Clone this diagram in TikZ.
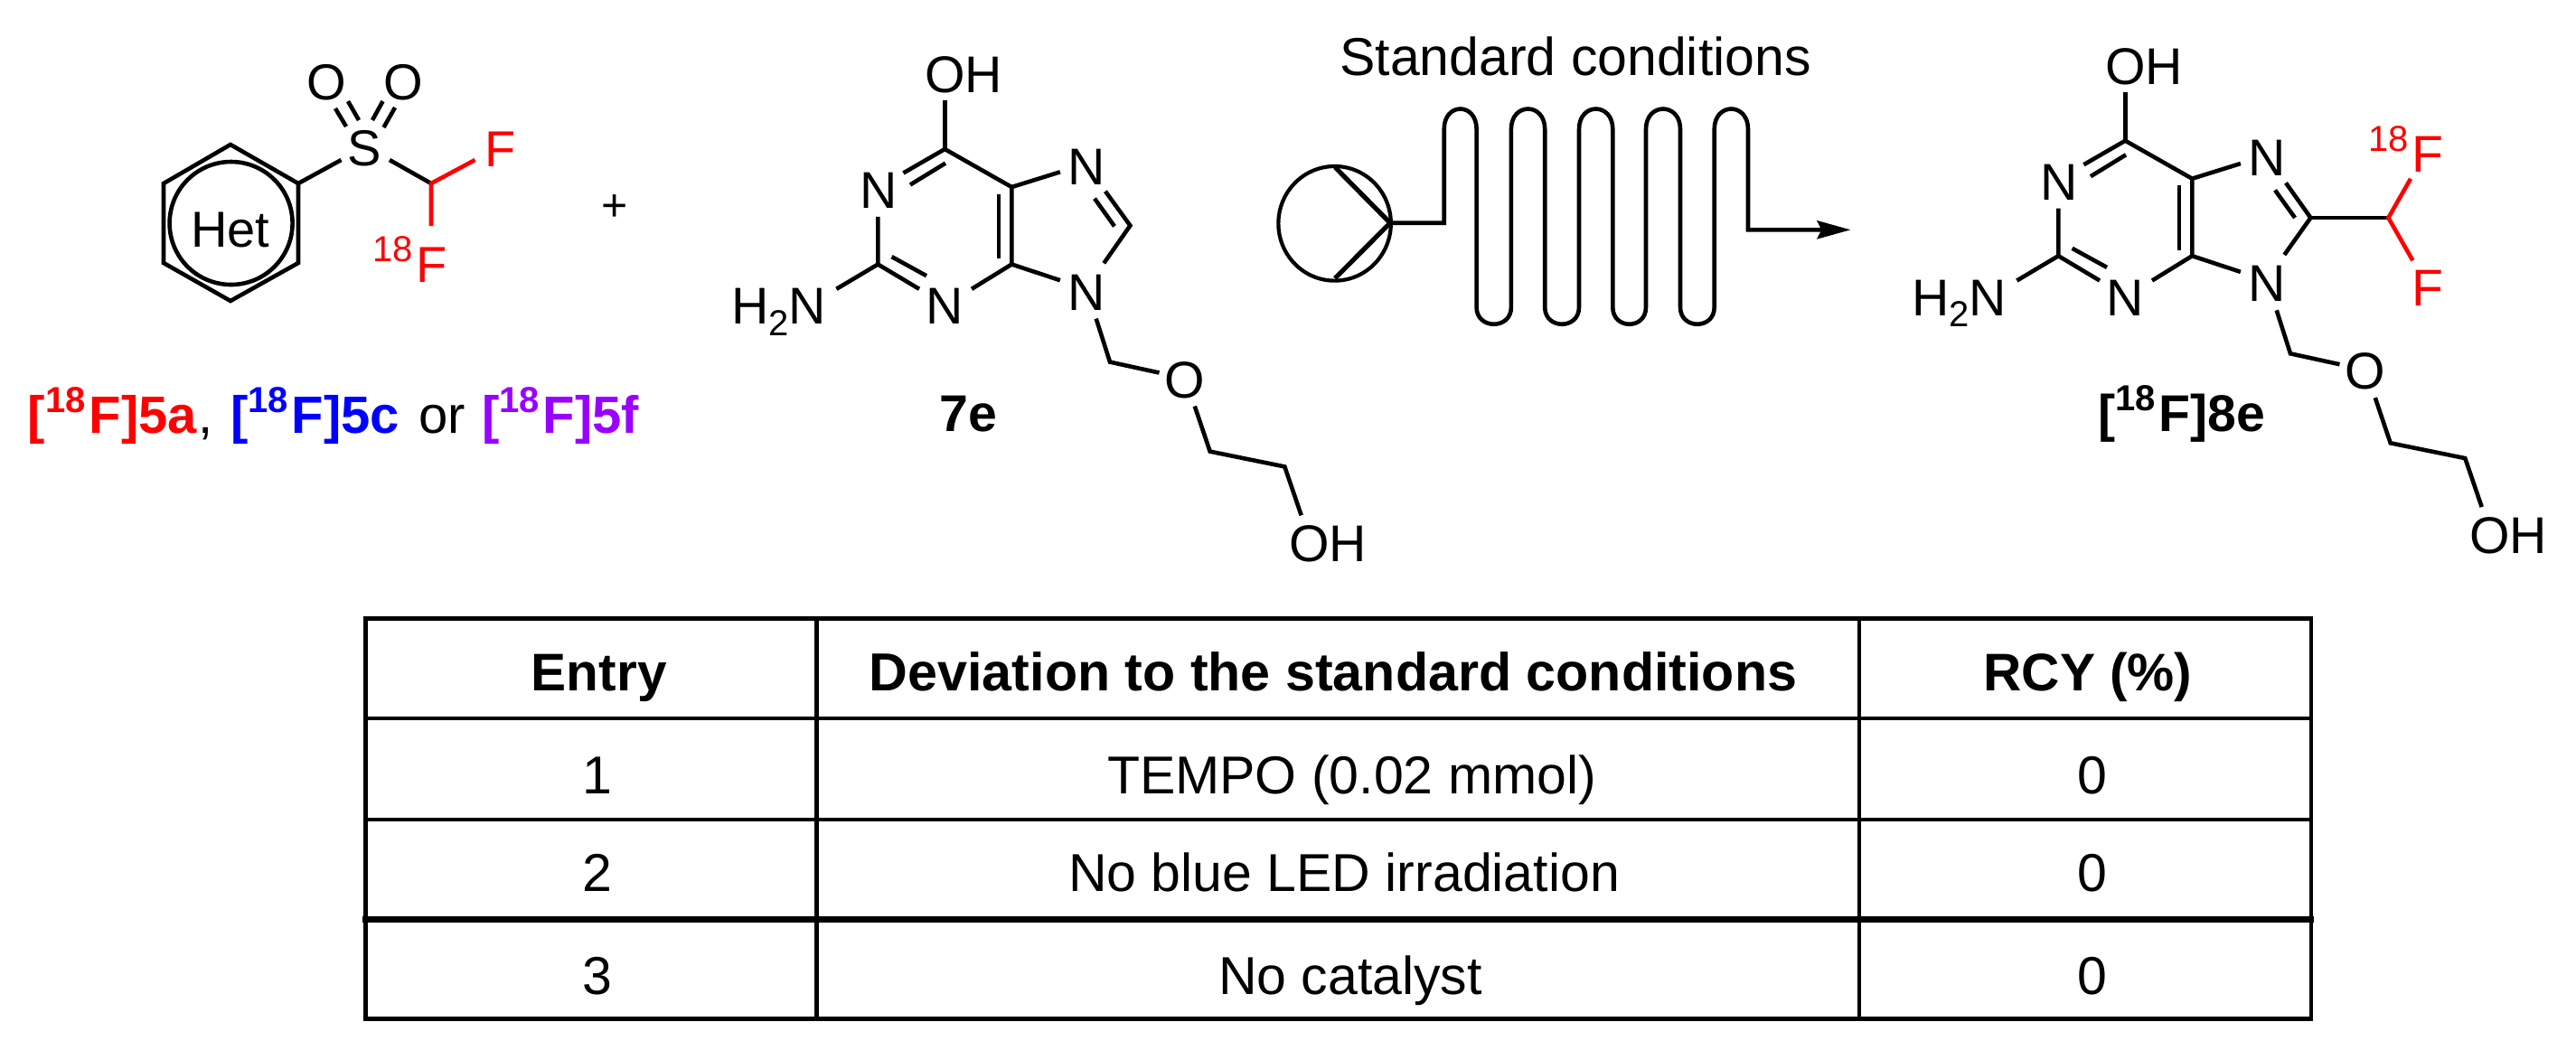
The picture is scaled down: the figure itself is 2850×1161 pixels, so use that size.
\documentclass[tikz,border=0pt]{standalone}
\usepackage{fontspec}
\setmainfont{Liberation Sans}
\usetikzlibrary{arrows.meta}
\definecolor{purp}{RGB}{153,0,255}
\newcommand{\supa}{\raisebox{5.75pt}{\fontsize{10}{10}\selectfont 18}\kern1pt}
\newcommand{\subb}{\raisebox{-3.15pt}{\fontsize{10}{10}\selectfont 2}}
\tikzset{
  bond/.style={line width=1.15pt,line cap=butt,line join=miter},
  redbond/.style={bond,red},
  lbl/.style={inner sep=0pt,outer sep=0pt,anchor=base},
  bigtxt/.style={lbl,font=\fontsize{14}{14}\selectfont},
  chem/.style={lbl,font=\fontsize{14.3}{14.3}\selectfont},
  chemb/.style={lbl,font=\fontsize{14.3}{14.3}\selectfont\bfseries},
  captxt/.style={lbl,anchor=base west,font=\fontsize{14.5}{14.5}\selectfont\bfseries},
  capreg/.style={lbl,anchor=base west,font=\fontsize{14.5}{14.5}\selectfont},
  cellh/.style={lbl,font=\fontsize{14.65}{14.65}\selectfont\bfseries},
  celltxt/.style={lbl,font=\fontsize{14.75}{14.75}\selectfont},
  rulem/.style={line width=1.05pt,line cap=rect},
  rulet/.style={line width=1.2pt,line cap=rect},
  ruleb/.style={line width=1.65pt,line cap=rect},
}
\newcommand{\purine}[2]{%
\begin{scope}[shift={(#2)}]
  \node[chem] (#1oh) at (1066,102.3) {OH};
  \node[chem] (#1na) at (972,230.7) {N};
  \node[chem] (#1nb) at (1201.7,204.2) {N};
  \node[chem] (#1nc) at (1201.7,343) {N};
  \node[chem] (#1nd) at (1045.3,358.6) {N};
  \node[chem,anchor=base west] (#1nh) at (809,358.6) {H\subb N};
  \node[chem] (#1o) at (1310.6,440) {O};
  \node[chem] (#1ohb) at (1469,621.6) {OH};
  \draw[bond] (1045.3,111.1) -- (1045.3,165);
  \draw[bond] (999.4,191.5) -- (1045.3,165) -- (1119.3,207) -- (1119.3,292.5) -- (1075,319.8);
  \draw[bond] (1007,204.5) -- (1046,180.6);
  \draw[bond] (1105,214.6) -- (1105,286.2);
  \draw[bond] (1119.3,207) -- (1172.9,190.3);
  \draw[bond] (1119.3,292.5) -- (1172.9,310.2);
  \draw[bond] (1017,319.8) -- (971.3,292.5) -- (971.3,239.9);
  \draw[bond] (1025,305.2) -- (986.6,284.1);
  \draw[bond] (971.3,292.5) -- (925.4,319.8);
  \draw[bond] (1212.7,352.6) -- (1228,400.6) -- (1282.5,412.5);
  \draw[bond] (1321.8,449.5) -- (1338.7,499.6) -- (1421.3,516.4) -- (1439.7,570.3);
\end{scope}}
\begin{document}
\begin{tikzpicture}[x=0.25pt,y=-0.25pt]
\useasboundingbox (0,0) rectangle (2850,1161);
\fill[white] (0,0) rectangle (2850,1161);

% --- heteroaryl sulfone ---
\draw[bond] (255,160) -- (330,203) -- (330,291) -- (255,333) -- (181,291) -- (181,203) -- cycle;
\draw[bond] (255.6,247) circle[radius=17pt];
\node[bigtxt] (het) at (255,273) {Het};
\node[bigtxt] (sulf) at (403,183) {S};
\node[bigtxt] (oa) at (361,110) {O};
\node[bigtxt] (ob) at (446,110) {O};
\draw[bond] (371,120) -- (383,140);
\draw[bond] (385,112) -- (397,133);
\draw[bond] (423.5,112) -- (412,133);
\draw[bond] (437,119) -- (424.5,141);
\draw[bond] (330,203) -- (377.5,177);
\draw[bond] (431,177) -- (477,203);
\draw[redbond] (525.5,177) -- (477,203) -- (477,250);
\node[bigtxt,text=red,anchor=base west] (fa) at (536,184) {F};
\node[bigtxt,text=red,anchor=base west] (fb) at (412,312) {\supa F};
\node[lbl,font=\fontsize{12.5}{12.5}\selectfont] (plus) at (680,244) {+};

% --- caption ---
\node[captxt,text=red] (capa) at (31,479) {[\supa F]5a};
\node[capreg] (capc) at (219,479) {,};
\node[captxt,text=blue] (capb) at (255,479) {[\supa F]5c};
\node[capreg] (capo) at (463,479) {or};
\node[captxt,text=purp] (capf) at (533,479) {[\supa F]5f};

% --- 7e ---
\draw[bond] (1222.9,211.7) -- (1250.4,249.6) -- (1221.3,291.3);
\draw[bond] (1211,219.7) -- (1233,250.4);
\purine{p}{0,0}
\node[chemb] (ls) at (1071,477.5) {7e};

% --- flow reactor ---
\node[lbl,font=\fontsize{14.75}{14.75}\selectfont] (std) at (1743,83) {Standard conditions};
\draw[line width=1.05pt] (1476.6,247.3) ellipse[x radius=15.56pt,y radius=15.83pt];
\draw[line width=1.3pt,line join=miter] (1477,185) -- (1538,246.7) -- (1477,308);
\draw[bond,-{Stealth[length=9.25pt,width=5pt,inset=1.2pt]}]
  (1538,246.7) -- (1597.7,246.7) -- (1597.7,143)
  .. controls (1597.7,113) and (1633.6,113) .. (1633.6,143) -- (1633.6,340)
  .. controls (1633.6,365) and (1671.9,365) .. (1671.9,340) -- (1671.9,143)
  .. controls (1671.9,113) and (1709.2,113) .. (1709.2,143) -- (1709.2,340)
  .. controls (1709.2,365) and (1747,365) .. (1747,340) -- (1747,143)
  .. controls (1747,113) and (1784.3,113) .. (1784.3,143) -- (1784.3,340)
  .. controls (1784.3,365) and (1821,365) .. (1821,340) -- (1821,143)
  .. controls (1821,113) and (1859,113) .. (1859,143) -- (1859,340)
  .. controls (1859,365) and (1896.7,365) .. (1896.7,340) -- (1896.7,143)
  .. controls (1896.7,113) and (1934,113) .. (1934,143) -- (1934,254.3) -- (2047.5,254.3);

% --- [18F]8e ---
\purine{q}{1306,-9.3}
\draw[bond] (2529,202.4) -- (2556.4,241) -- (2527.3,282);
\draw[bond] (2517,210.4) -- (2539,241);
\draw[bond] (2556.4,241) -- (2642.4,241);
\draw[redbond] (2667,197.8) -- (2642.4,241) -- (2669.4,288.3);
\node[chem,text=red,anchor=base west] (fc) at (2620,190.2) {\supa F};
\node[chem,text=red,anchor=base west] (fd) at (2668.8,338) {F};
\node[chemb,anchor=base west] (lf) at (2321,477.7) {[\supa F]8e};

% --- table ---
\draw[rulet] (404.5,684.3) -- (2557,684.3);
\draw[rulem] (404.5,795.3) -- (2557,795.3);
\draw[rulem] (404.5,907) -- (2557,907);
\draw[ruleb] (404.5,1017.3) -- (2557,1017.3);
\draw[rulet] (404.5,1127.3) -- (2557,1127.3);
\draw[rulem] (404.5,684.3) -- (404.5,1127.3);
\draw[rulem] (903.5,684.3) -- (903.5,1127.3);
\draw[rulet] (2057,684.3) -- (2057,1127.3);
\draw[rulem] (2557,684.3) -- (2557,1127.3);
\node[cellh] (h1) at (662.8,764) {Entry};
\node[cellh,font=\fontsize{14.8}{14.8}\selectfont\bfseries] (h2) at (1475,764) {Deviation to the standard conditions};
\node[cellh] (h3) at (2310,764) {RCY (\%)};
\node[celltxt] (a1) at (660.7,878) {1};
\node[celltxt] (a2) at (660.7,986.7) {2};
\node[celltxt] (a3) at (660.7,1100.5) {3};
\node[celltxt] (b1) at (1495.5,878) {TEMPO (0.02 mmol)};
\node[celltxt] (b2) at (1487,986.7) {No blue LED irradiation};
\node[celltxt] (b3) at (1494,1100.5) {No catalyst};
\node[celltxt] (c1) at (2315,878) {0};
\node[celltxt] (c2) at (2315,986.7) {0};
\node[celltxt] (c3) at (2315,1100.5) {0};
\end{tikzpicture}
\end{document}
